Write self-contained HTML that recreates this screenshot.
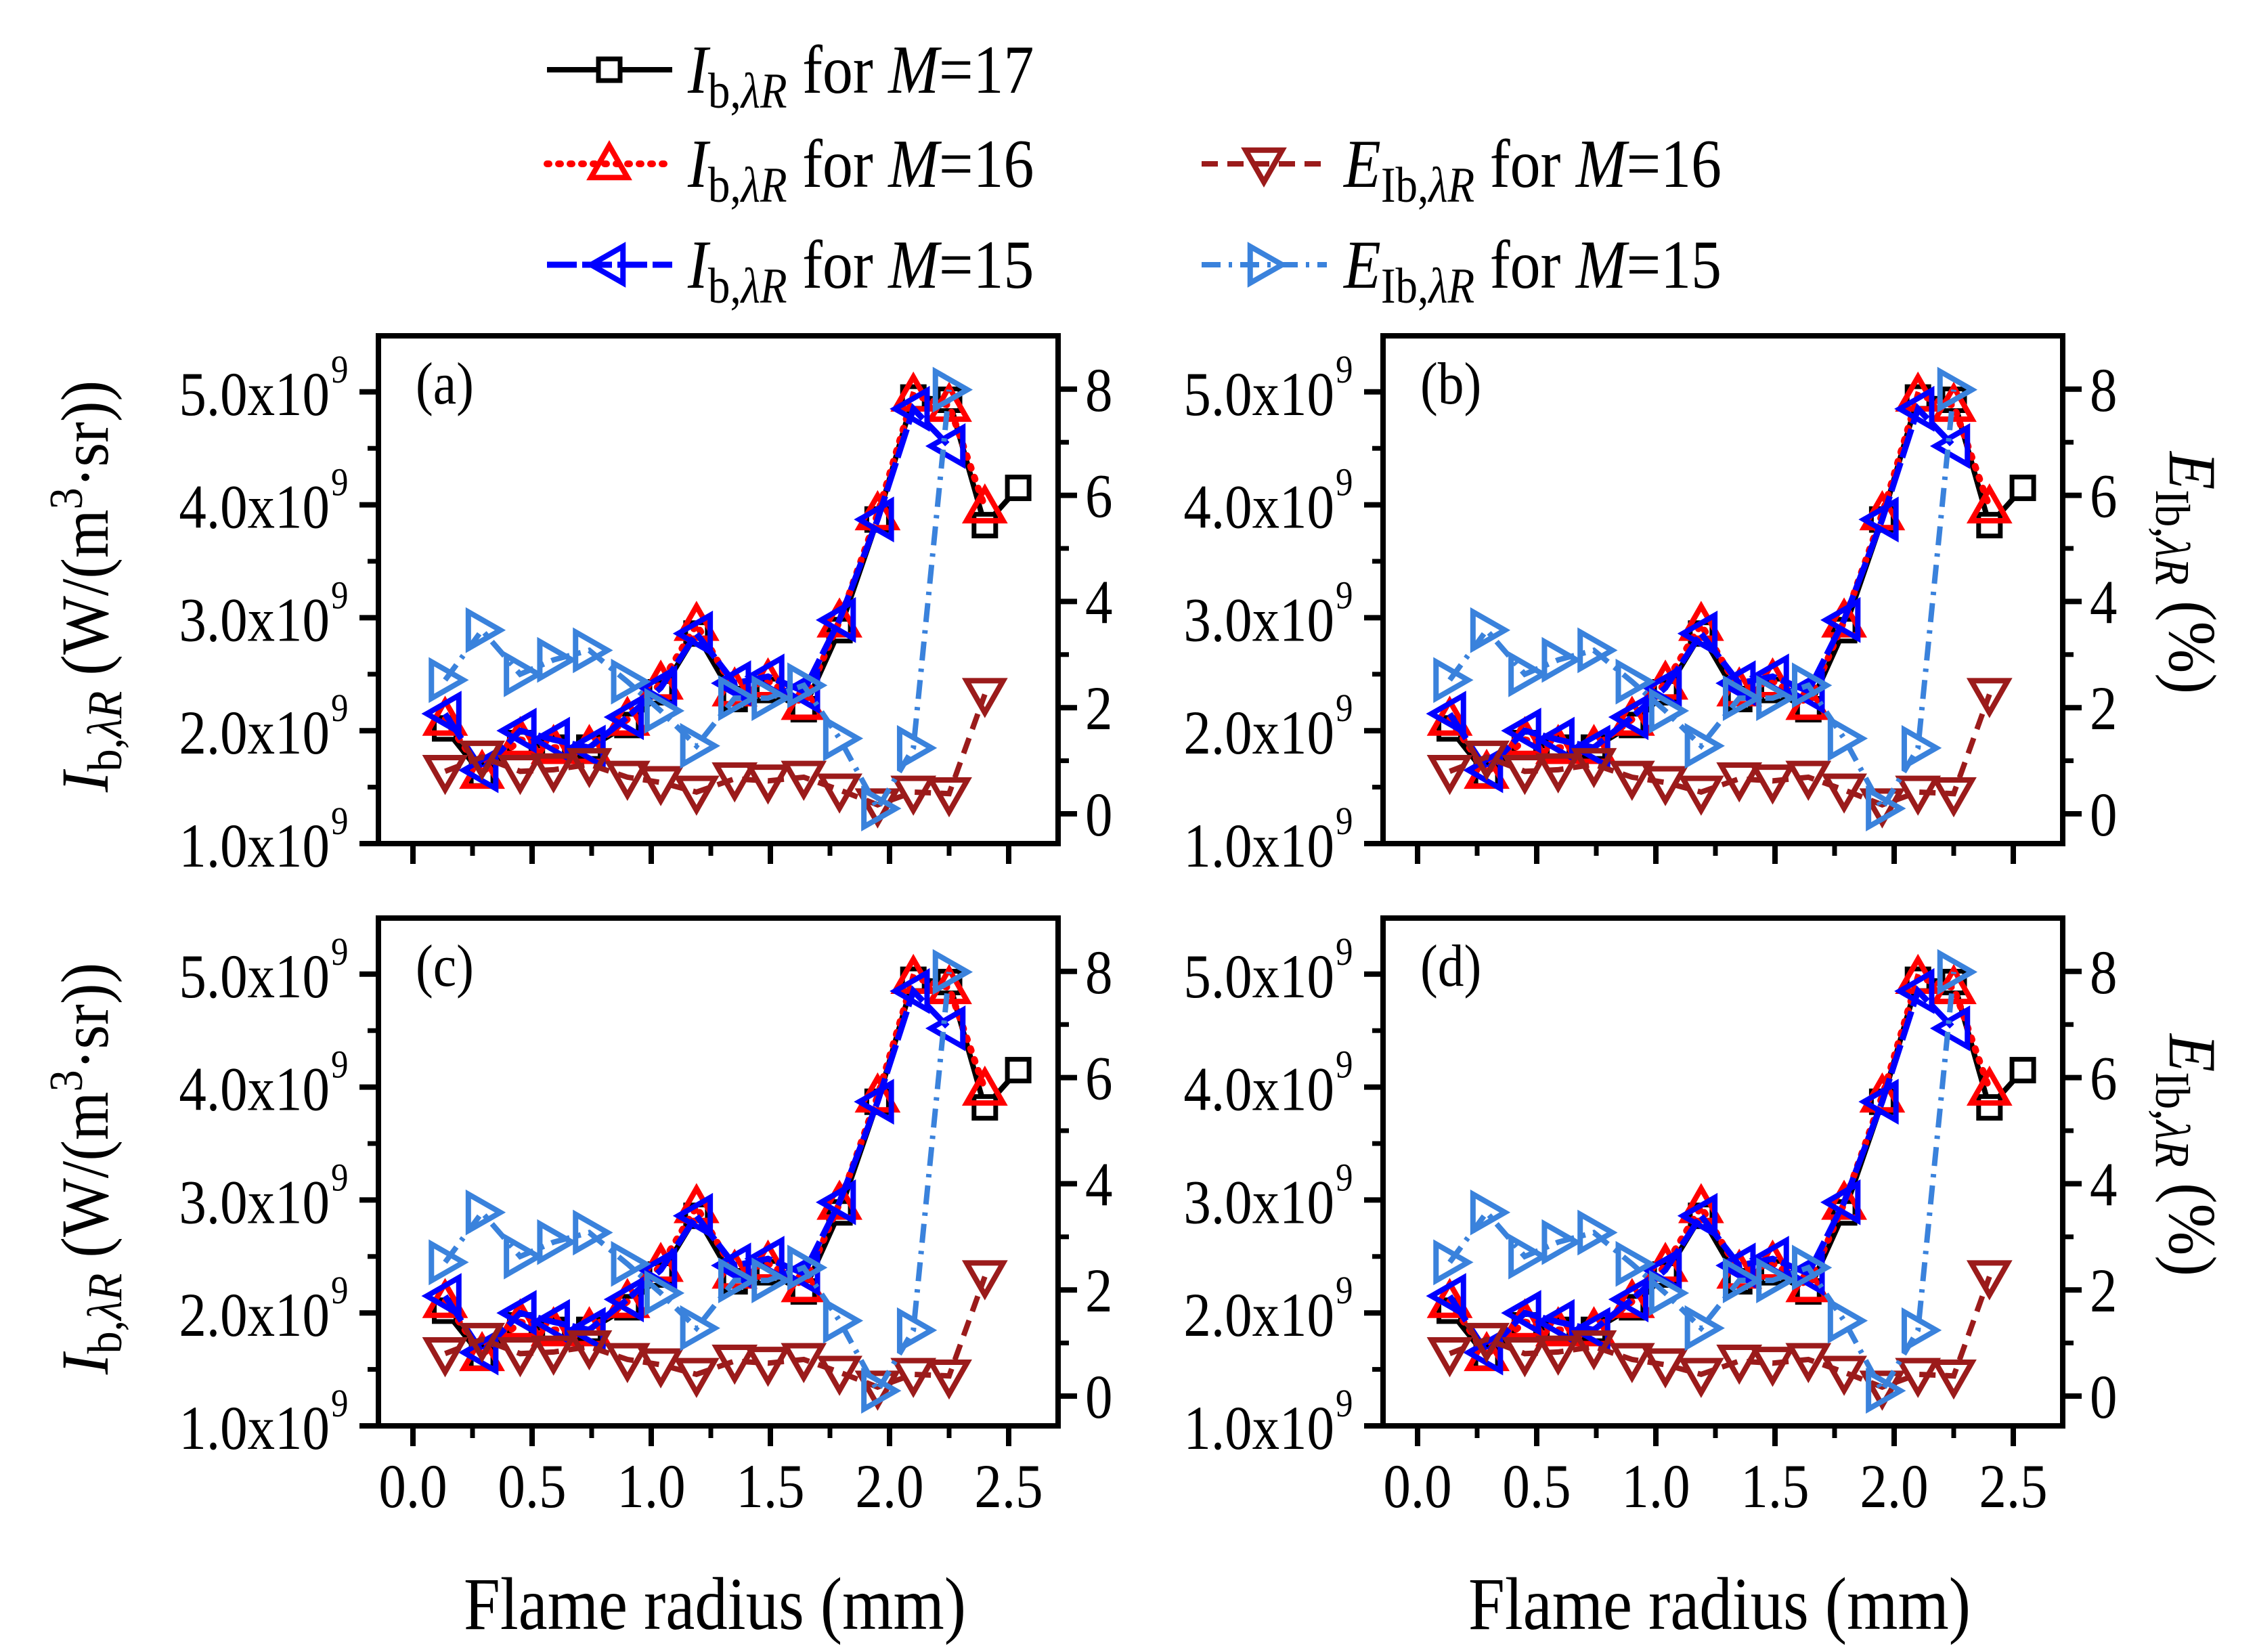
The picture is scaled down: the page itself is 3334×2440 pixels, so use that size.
<!DOCTYPE html>
<html><head><meta charset="utf-8"><style>
html,body{margin:0;padding:0;background:#fff}
svg{display:block;font-family:"Liberation Serif",serif}
</style></head><body>
<svg id="chart" width="3334" height="2440" viewBox="0 0 3334 2440" xmlns="http://www.w3.org/2000/svg">
<g id="legend"></g>
<g id="panels"></g>
</svg>
<script>
const xs17=[0.135,0.29,0.45,0.59,0.74,0.9,1.04,1.19,1.35,1.49,1.64,1.79,1.95,2.1,2.25,2.4,2.54];
const ib17=[2.02,1.61,1.89,1.85,1.85,2.05,2.34,2.86,2.28,2.36,2.19,2.89,3.87,4.95,4.93,3.82,4.15];
const xs16=[0.135,0.29,0.45,0.59,0.74,0.9,1.04,1.19,1.35,1.49,1.64,1.79,1.95,2.1,2.25,2.4];
const ib16=[2.1,1.63,1.92,1.85,1.85,2.1,2.42,2.94,2.36,2.44,2.24,2.97,3.92,4.97,4.88,3.98];
const xs15=[0.135,0.29,0.45,0.59,0.74,0.9,1.04,1.19,1.35,1.49,1.64,1.79,1.95,2.1,2.25];
const ib15=[2.15,1.65,2.0,1.92,1.85,2.12,2.38,2.86,2.42,2.48,2.35,2.98,3.87,4.85,4.52];
const e16=[0.8,1.07,0.8,0.83,0.93,0.69,0.59,0.41,0.66,0.62,0.69,0.45,0.17,0.41,0.38,2.25];
const e15=[2.52,3.46,2.63,2.9,3.08,2.49,1.94,1.28,2.18,2.18,2.42,1.42,0.1,1.24,7.99];
const xTicks=[0,0.5,1.0,1.5,2.0,2.5];
const yTicks=[1,2,3,4,5];
const eTicks=[0,2,4,6,8];
const panelNames=["a","b","c","d"];

const NS="http://www.w3.org/2000/svg";
function mk(tag,attrs,parent){const e=document.createElementNS(NS,tag);for(const k in attrs)e.setAttribute(k,attrs[k]);if(parent)parent.appendChild(e);return e;}
const panelsG=document.getElementById('panels');
const legendG=document.getElementById('legend');
const SX=0.88;

function marker(g,type,cx,cy,color){
  let el;
  const s=27;
  if(type==='sq'){el=mk('rect',{x:cx-16,y:cy-16,width:32,height:32,fill:'#fff',stroke:color,'stroke-width':7},g);}
  else{
    let p;
    if(type==='up')p=[[cx,cy-s],[cx-s,cy+s*0.75],[cx+s,cy+s*0.75]];
    if(type==='down')p=[[cx,cy+s],[cx-s,cy-s*0.75],[cx+s,cy-s*0.75]];
    if(type==='left')p=[[cx-s,cy],[cx+s*0.75,cy-s],[cx+s*0.75,cy+s]];
    if(type==='right')p=[[cx+s,cy],[cx-s*0.75,cy-s],[cx-s*0.75,cy+s]];
    el=mk('polygon',{points:p.map(q=>q.join(',')).join(' '),fill:'none',stroke:color,'stroke-width':8,'stroke-linejoin':'miter'},g);
  }
  
  
}
const series=[
 {n:'ib-m17',xs:xs17,ys:ib17,ax:'L',c:'#000',dash:'',m:'sq',w:8},
 {n:'ib-m16',xs:xs16,ys:ib16,ax:'L',c:'#ff0000',dash:'3,14',m:'up',w:10},
 {n:'ib-m15',xs:xs15,ys:ib15,ax:'L',c:'#0000ff',dash:'44,8',m:'left',w:9},
 {n:'e-m16',xs:xs16,ys:e16,ax:'R',c:'#9b1b1b',dash:'24,14',m:'down',w:8},
 {n:'e-m15',xs:xs15,ys:e15,ax:'R',c:'#3a82dc',dash:'28,12,5,12',m:'right',w:8}
];
function ctext(parent,x,y,size,anchor,html,rot){
  const t=mk('text',{transform:`translate(${x},${y})${rot?' rotate('+rot+')':''} scale(${SX},1)`,'font-size':size,'text-anchor':anchor},parent);
  t.innerHTML=html;return t;
}

function panel(idx){
  const L=idx%2===0?559:2043, T=idx<2?496:1356, R=L+1004, B=T+750;
  const g=mk('g',{},panelsG);
  
  
  const X=v=>L+51+v*352;
  const YL=v=>B-(v-1)*166.8;
  const YR=v=>T+706-v*78.4;
  xTicks.forEach((t,i)=>{
    mk('line',{x1:X(t),x2:X(t),y1:B,y2:B+30,stroke:'#000','stroke-width':8},g);
    if(i<xTicks.length-1)mk('line',{x1:X(t+0.25),x2:X(t+0.25),y1:B,y2:B+18,stroke:'#000','stroke-width':7},g);
    if(idx>=2){const tx=ctext(g,X(t),B+120,92,'middle',t.toFixed(1));
      }
  });
  yTicks.forEach((t,i)=>{
    mk('line',{x1:L-28,x2:L,y1:YL(t),y2:YL(t),stroke:'#000','stroke-width':8},g);
    if(i<yTicks.length-1)mk('line',{x1:L-16,x2:L,y1:YL(t+0.5),y2:YL(t+0.5),stroke:'#000','stroke-width':7},g);
    const tx=ctext(g,L-72,YL(t)+34,92,'end',t.toFixed(1)+'x10');
    
    ctext(g,L-70,YL(t)-14,58,'start','9');
  });
  eTicks.forEach((t,i)=>{
    mk('line',{x1:R,x2:R+28,y1:YR(t),y2:YR(t),stroke:'#000','stroke-width':8},g);
    if(i<eTicks.length-1)mk('line',{x1:R,x2:R+16,y1:YR(t+1),y2:YR(t+1),stroke:'#000','stroke-width':7},g);
    const tx=ctext(g,R+40,YR(t)+32,92,'start',String(t));
    
  });
  const fr=mk('rect',{x:L,y:T,width:R-L,height:B-T,fill:'none',stroke:'#000','stroke-width':8},g);
  
  const lab=ctext(g,L+55,T+100,88,'start','('+panelNames[idx]+')');
  
  series.forEach(s=>{
    const sg=mk('g',{},g);
    
    const Y=s.ax==='L'?YL:YR;
    const pts=s.xs.map((x,i)=>X(x)+','+Y(s.ys[i])).join(' ');
    mk('polyline',{points:pts,fill:'none',stroke:s.c,'stroke-width':s.w,'stroke-dasharray':s.dash,'stroke-linecap':s.m==='up'?'round':'butt'},sg);
    s.xs.forEach((x,i)=>marker(sg,s.m,X(x),Y(s.ys[i]),s.c));
  });
  if(idx%2===0){
    const t=mk('text',{transform:`translate(${L-400},${(T+B)/2-5}) rotate(-90) scale(0.92,1)`,'font-size':100,'text-anchor':'middle'},g);
    t.innerHTML='<tspan font-style="italic">I</tspan><tspan font-size="72" dy="20">b,</tspan><tspan font-style="italic" font-size="72">λR</tspan><tspan dy="-20"> (W/(m</tspan><tspan font-size="70" dy="-38">3</tspan><tspan dy="38">·sr))</tspan>';
    
  } else {
    const t=mk('text',{transform:`translate(${R+158},${(T+B)/2-25}) rotate(90) scale(0.92,1)`,'font-size':100,'text-anchor':'middle'},g);
    t.innerHTML='<tspan font-style="italic">E</tspan><tspan font-size="72" dy="20">Ib,</tspan><tspan font-style="italic" font-size="72">λR</tspan><tspan dy="-20"> (%)</tspan>';
    
  }
  if(idx>=2){
    const t=ctext(g,(L+R)/2-5,B+300,110,'middle','Flame radius (mm)');
    
  }
}
[0,1,2,3].forEach(panel);

const legendItems=[
 {s:0,x:808,y:103,lbl:'I',M:'17'},
 {s:1,x:808,y:242,lbl:'I',M:'16'},
 {s:2,x:808,y:391,lbl:'I',M:'15'},
 {s:3,x:1775,y:242,lbl:'E',M:'16'},
 {s:4,x:1775,y:391,lbl:'E',M:'15'}
];
legendItems.forEach(it=>{
  const s=series[it.s];
  const g=mk('g',{},legendG);
  
  mk('line',{x1:it.x,x2:it.x+185,y1:it.y,y2:it.y,stroke:s.c,'stroke-width':s.w,'stroke-dasharray':s.dash,'stroke-linecap':s.m==='up'?'round':'butt'},g);
  marker(g,s.m,it.x+92,it.y,s.c);
  const tx=it.x+(it.lbl==='E'?210:208);
  const html=(it.lbl==='I'?'<tspan font-style="italic">I</tspan><tspan font-size="74" dy="22">b,</tspan>':'<tspan font-style="italic">E</tspan><tspan font-size="74" dy="22">Ib,</tspan>')+'<tspan font-style="italic" font-size="74">λR</tspan><tspan dy="-22"> for </tspan><tspan font-style="italic">M</tspan>='+it.M;
  ctext(g,tx,it.y+34,102,'start',html);
});
</script>
</body></html>
